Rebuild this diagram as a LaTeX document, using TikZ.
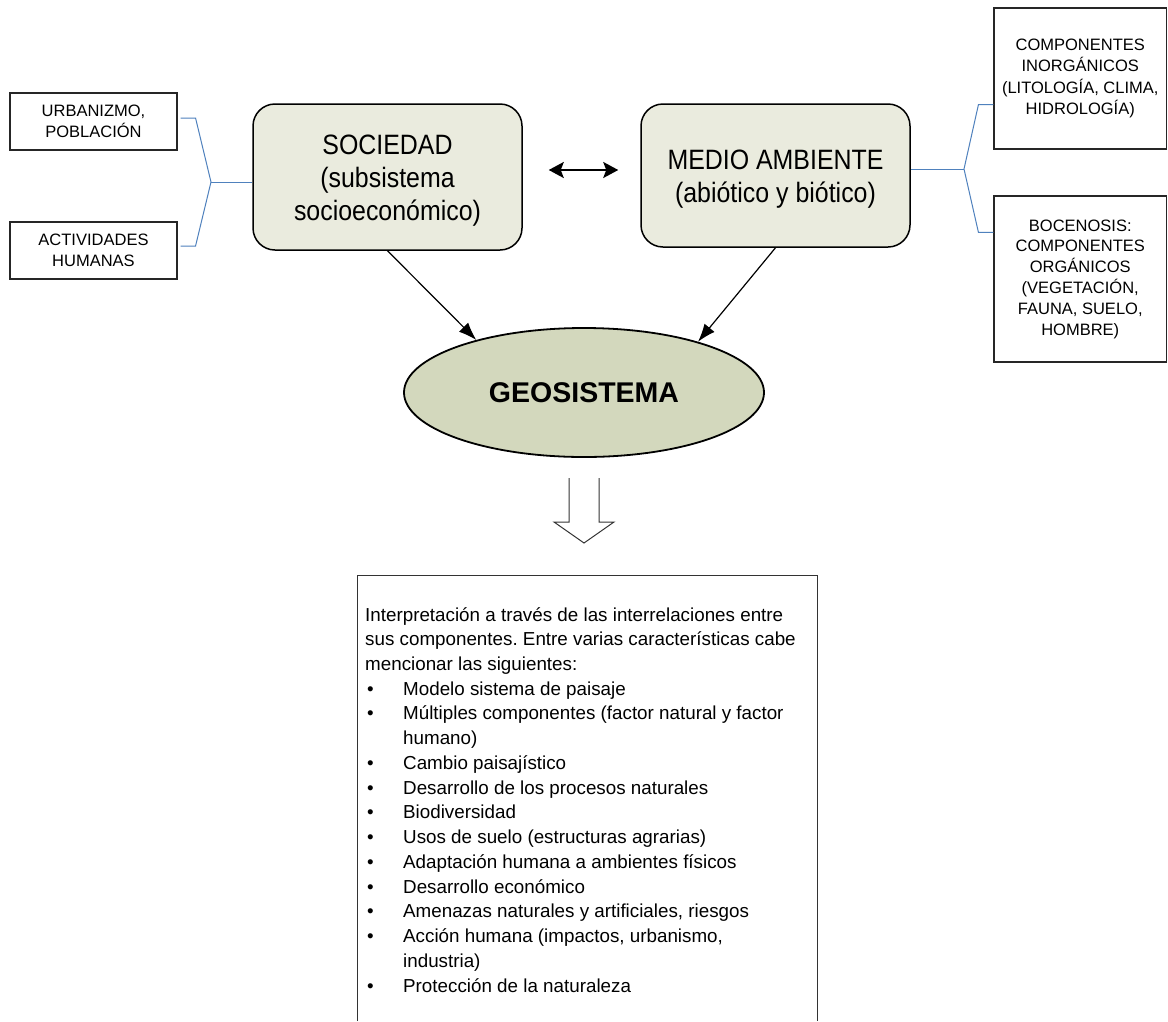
\documentclass[tikz,border=0pt]{standalone}
\usepackage{fontspec}
\setmainfont{Liberation Sans}
\newfontfamily\narrowsans[FakeStretch=0.89]{Liberation Sans}
\usetikzlibrary{arrows.meta,shapes.geometric}
\definecolor{boxfill}{HTML}{EAEBDE}
\definecolor{ellfill}{HTML}{D3D8BD}
\definecolor{bracketblue}{HTML}{4F81BD}
\frenchspacing
\newcommand\bulletmark{\makebox[38pt][l]{\hspace{2pt}•}}
\newcommand\hangspace{\hspace*{38pt}}
\begin{document}
\begin{tikzpicture}[x=1pt,y=-1pt,
  smallbox/.style={draw=black!85, line width=1.1pt, fill=white, align=center,
    inner sep=0pt, font=\fontsize{16.5}{20.8}\selectfont},
  mainbox/.style={draw=black, line width=1.5pt, fill=boxfill, rounded corners=22pt,
    inner sep=0pt},
  maintext/.style={align=center, inner sep=0pt, font=\narrowsans\fontsize{28}{33}\selectfont},
  brk/.style={draw=bracketblue, line width=1pt},
  link/.style={-{Latex[length=18pt,width=13pt]}, line width=1.2pt},
  dbl/.style={{Stealth[length=15pt,width=16pt,inset=3pt]}-{Stealth[length=15pt,width=16pt,inset=3pt]}, line width=2pt},
  hollow/.style={draw=black!80, line width=1pt, fill=white}
]
\useasboundingbox[fill=white] (0,0) rectangle (1168,1021);

% side boxes
\node[smallbox, minimum width=167pt, minimum height=57pt] (urb) at (93.5,121.5) {URBANIZMO,\\POBLACIÓN};
\node[smallbox, minimum width=167pt, minimum height=57pt] (act) at (93.5,250.5) {ACTIVIDADES\\HUMANAS};
\node[smallbox, minimum width=172.5pt, minimum height=141pt,
  font=\fontsize{16.5}{21.5}\selectfont] (inor) at (1080.25,78.5)
  {COMPONENTES\\INORGÁNICOS\\(LITOLOGÍA, CLIMA,\\HIDROLOGÍA)};
\node[smallbox, minimum width=172.5pt, minimum height=166pt] (bio) at (1080.25,279)
  {BOCENOSIS:\\COMPONENTES\\ORGÁNICOS\\(VEGETACIÓN,\\FAUNA, SUELO,\\HOMBRE)};

% main subsystems
\node[mainbox, minimum width=269pt, minimum height=146pt] (soc) at (387.5,177) {};
\node[maintext] (soctext) at ([yshift=-4pt]soc.center) {SOCIEDAD\\(subsistema\\socioeconómico)};
\node[mainbox, minimum width=269pt, minimum height=143pt] (med) at (775.5,175.5) {};
\node[maintext] (medtext) at ([yshift=-4pt]med.center) {MEDIO AMBIENTE\\(abiótico y biótico)};

% geosystem
\node[ellipse, draw=black, line width=1.8pt, fill=ellfill, minimum width=360pt,
  minimum height=129pt, inner sep=0pt, font=\bfseries\fontsize{28.5}{33}\selectfont]
  (geo) at (584,392.5) {GEOSISTEMA};

% blue brackets
\coordinate (jl) at (211,182);
\coordinate (jr) at (964,169);
\draw[brk] ([shift={(3pt,3.5pt)}]urb.east) -- ++(15,0) -- (jl)
  -- ([shift={(18pt,4.5pt)}]act.east) -- ([shift={(3pt,4.5pt)}]act.east);
\draw[brk] (jl) -- (soc.west |- jl);
\draw[brk] ([yshift=45pt]inor.south west) -- ([shift={(-15pt,45pt)}]inor.south west) -- (jr)
  -- ([shift={(-15pt,-37pt)}]bio.north west) -- ([yshift=-37pt]bio.north west);
\draw[brk] ([yshift=6.5pt]med.east) -- (jr);

% interaction and contributions
\draw[dbl] ([shift={(26pt,7pt)}]soc.east) -- ([shift={(-22pt,5.5pt)}]med.west);
\draw[link] (soc.south) -- (geo.154);
\draw[link] (med.south) -- (geo.24);

% outline arrow down to the description
\draw[hollow] (569,478) -- (569,522) -- (554,522) -- (584,543) -- (614,522) -- (599,522) -- (599,478);

% description box (open at the lower edge)
\draw[draw=black!80, line width=1pt] (357,1021) -- (357,575) -- (817,575) -- (817,1021);
\node[anchor=base west, align=left, inner sep=0pt, font=\fontsize{18.8}{24.73}\selectfont]
  (info) at (365,992) {Interpretación a través de las interrelaciones entre\\
sus componentes. Entre varias características cabe\\
mencionar las siguientes:\\
\bulletmark Modelo sistema de paisaje\\
\bulletmark Múltiples componentes (factor natural y factor\\
\hangspace humano)\\
\bulletmark Cambio paisajístico\\
\bulletmark Desarrollo de los procesos naturales\\
\bulletmark Biodiversidad\\
\bulletmark Usos de suelo (estructuras agrarias)\\
\bulletmark Adaptación humana a ambientes físicos\\
\bulletmark Desarrollo económico\\
\bulletmark Amenazas naturales y artificiales, riesgos\\
\bulletmark Acción humana (impactos, urbanismo,\\
\hangspace industria)\\
\bulletmark Protección de la naturaleza};
\end{tikzpicture}
\end{document}
